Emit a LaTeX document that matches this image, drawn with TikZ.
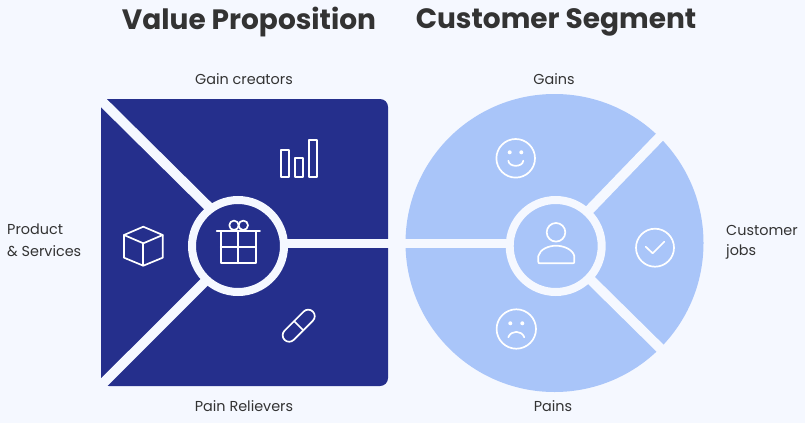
\documentclass[tikz,border=0pt]{standalone}
\usepackage{fontspec}
\setmainfont{Poppins}
\definecolor{bgc}{HTML}{F5F8FF}
\definecolor{navy}{HTML}{252F8C}
\definecolor{sky}{HTML}{A9C5F9}
\definecolor{ink}{HTML}{333333}
\tikzset{
  x=1pt,y=-1pt,
  hubring/.style={circle,draw=bgc,line width=8pt,minimum size=92pt,inner sep=0pt},
  band/.style={draw=bgc,line width=9.8pt,shorten <=-3pt},
  icon/.style={draw=white,line width=1.7pt,line join=round,line cap=round},
  titletext/.style={text=ink,font=\fontsize{28}{34}\selectfont\bfseries,inner sep=0pt,anchor=center},
  labeltext/.style={text=ink,font=\fontsize{14.4}{20}\selectfont,inner sep=0pt},
}
\begin{document}
\begin{tikzpicture}
\useasboundingbox (0,0) rectangle (805,423);
\fill[bgc] (0,0) rectangle (805,423);
% shapes
\fill[navy,rounded corners=8pt] (101,99) -- (388,99) -- (388,386) -- (101,386) -- cycle;
\fill[navy] (101,99) rectangle (115,115);
\fill[navy] (101,386) rectangle (115,370);
\node[circle,fill=sky,minimum size=298pt,inner sep=0pt] (disc) at (554.5,243) {};
% hubs
\node[hubring,fill=navy] (vp) at (238,246) {};
\node[hubring,fill=sky] (cs) at (555.7,246) {};
% free ends
\coordinate (vtl) at (96,95.3);
\coordinate (vbl) at (96,390.4);
\coordinate (ctr) at (666,130.4);
\coordinate (cbr) at (667,355);
% connectors
\draw[band] ([yshift=2.5pt]vp.east) -- ([yshift=2.5pt]cs.west);
\draw[band] (vp.127.8) -- (vtl);
\draw[band] (vp.227.4) -- (vbl);
\draw[band] (cs.47.7) -- (ctr);
\draw[band] (cs.316.7) -- (cbr);
% chart icon
\draw[icon] (280.7,150) rectangle (289,176.7);
\draw[icon] (295,158.3) rectangle (303.3,176.7);
\draw[icon] (309,140) rectangle (317.3,176.7);
% gift icon
\draw[icon] (216.7,231) -- (260,231);
\draw[icon] (220.7,231) rectangle (256,263.3);
\draw[icon] (238.3,231) -- (238.3,263.3);
\draw[icon] (220.7,247.3) -- (256,247.3);
\draw[icon] (234,225.3) circle[radius=4.7pt];
\draw[icon] (243.3,225.3) circle[radius=4.7pt];
% cube icon
\draw[icon] (143.3,226.7) -- (162.7,235) -- (162.7,257.7) -- (143.3,265.7) -- (124,257.7) -- (124,235) -- cycle;
\draw[icon] (124,235) -- (143.3,243.3) -- (162.7,235);
\draw[icon] (143.3,243.3) -- (143.3,265.7);
% pill icon
\begin{scope}[shift={(298.7,325.7)},rotate=45]
\draw[icon,rounded corners=6.5pt] (-20,-6.5) rectangle (20,6.5);
\draw[icon] (0,-6.5) -- (0,6.5);
\end{scope}
% smile
\draw[icon] (515.7,158.3) circle[radius=19.3pt];
\fill[white] (509.7,152.3) circle[radius=2pt] (521.3,152.3) circle[radius=2pt];
\draw[icon] (508.3,160.7) .. controls (509,167.5) and (522.6,167.5) .. (523.3,160.7);
% frown
\draw[icon] (516.3,329) circle[radius=19.7pt];
\fill[white] (510.3,323.3) circle[radius=2pt] (522.3,323.3) circle[radius=2pt];
\draw[icon] (508.3,337.3) .. controls (511,330) and (521.6,330) .. (524.3,337.3);
% check
\draw[icon] (655,247.7) circle[radius=19pt];
\draw[icon] (645.7,246.7) -- (652.7,253.3) -- (664.3,241.7);
% person
\draw[icon] (556,232.3) circle[radius=9.3pt];
\draw[icon] (538.3,261.5) -- (538.3,256) .. controls (540,249) and (549,245.7) .. (556,245.7) .. controls (563,245.7) and (572.6,249) .. (574.3,256) -- (574.3,261.5) .. controls (574.3,263) and (574,263.3) .. (572.5,263.3) -- (540,263.3) .. controls (538.6,263.3) and (538.3,263) .. (538.3,261.5) -- cycle;
% text
\node[titletext] (t1) at (249,22) {Value Proposition};
\node[titletext] (t2) at (556,22) {Customer Segment};
\node[labeltext] (l1) at (244,79) {Gain creators};
\node[labeltext] (l2) at (554,79) {Gains};
\node[labeltext] (l3) at (244,406) {Pain Relievers};
\node[labeltext] (l4) at (553,406) {Pains};
\node[labeltext,anchor=west,align=left] (l5) at (7,240) {Product\\[2pt]\& Services};
\node[labeltext,anchor=west,align=left] (l6) at (726,242) {Customer\\jobs};
\end{tikzpicture}
\end{document}
